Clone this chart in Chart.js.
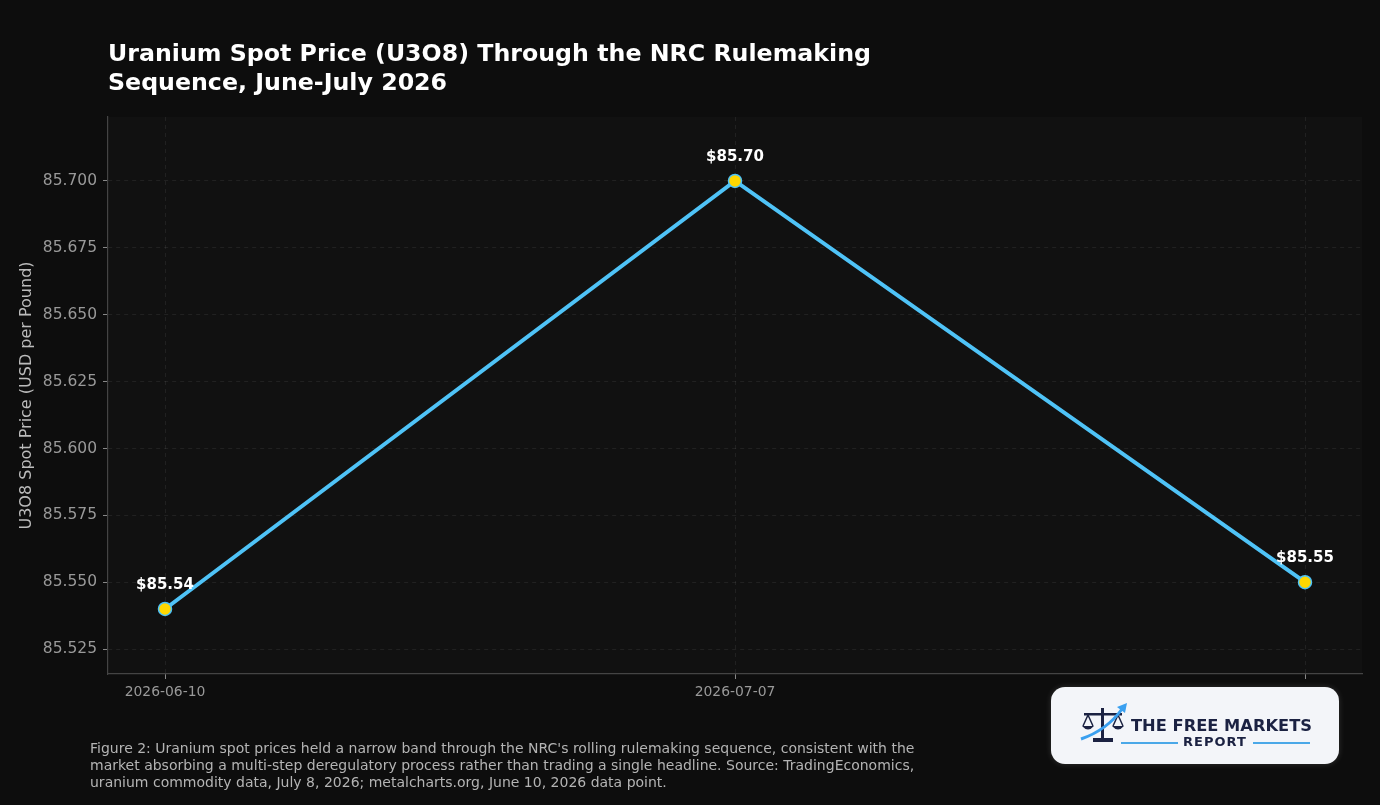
<!DOCTYPE html>
<html>
<head>
<meta charset="utf-8">
<script src="https://cdn.jsdelivr.net/npm/chart.js@4.4.1/dist/chart.umd.min.js"></script>
<style>
  html, body { margin: 0; padding: 0; background: #0d0d0d; }
  body { width: 1380px; height: 805px; position: relative; overflow: hidden; font-family: "DejaVu Sans", sans-serif; }
  #wrap { position: absolute; left: 0; top: 0; width: 1380px; height: 805px; }
  #title { position: absolute; left: 108px; top: 39px; color: #fff; font-weight: bold; font-size: 23.7px; line-height: 29px; white-space: nowrap; }
  #caption { position: absolute; left: 90px; top: 740px; color: #b4b4b4; font-size: 14px; line-height: 17px; white-space: nowrap; }
  #logo { position: absolute; left: 1051px; top: 687px; width: 288px; height: 77px; border-radius: 14px; background: #f3f5f9; box-shadow: 0 0 6px rgba(255,255,255,0.15); }
  #logo .name { position: absolute; left: 80px; top: 29px; font-size: 16.3px; font-weight: bold; color: #1b2242; white-space: nowrap; }
  #logo .rep { position: absolute; left: 132px; top: 47px; font-size: 13px; font-weight: bold; color: #1b2242; letter-spacing: 1px; white-space: nowrap; }
  #logo .ln { position: absolute; top: 55px; height: 2px; background: #4aa8e8; }
  #logo svg { position: absolute; left: 28px; top: 15px; }
</style>
</head>
<body>
<div id="wrap"><canvas id="chart" width="1380" height="805"></canvas></div>
<div id="title">Uranium Spot Price (U3O8) Through the NRC Rulemaking<br>Sequence, June-July 2026</div>
<div id="caption">Figure 2: Uranium spot prices held a narrow band through the NRC's rolling rulemaking sequence, consistent with the<br>market absorbing a multi-step deregulatory process rather than trading a single headline. Source: TradingEconomics,<br>uranium commodity data, July 8, 2026; metalcharts.org, June 10, 2026 data point.</div>
<div id="logo">
  <svg width="52" height="44" viewBox="0 0 52 44">
    <rect x="22" y="6" width="3" height="30" fill="#1b2242"/>
    <rect x="14" y="36" width="20" height="4" fill="#1b2242"/>
    <rect x="5" y="11" width="38" height="2.5" fill="#1b2242"/>
    <path d="M4 24 L9 13 L14 24" fill="none" stroke="#1b2242" stroke-width="1.5"/>
    <path d="M3 24 Q9 31 15 24 Z" fill="#1b2242"/>
    <path d="M34 24 L39 13 L44 24" fill="none" stroke="#1b2242" stroke-width="1.5"/>
    <path d="M33 24 Q39 31 45 24 Z" fill="#1b2242"/>
    <path d="M2 37 Q28 28 43 7" fill="none" stroke="#3aa0f0" stroke-width="3"/>
    <path d="M38 5 L48 1 L46 11 Z" fill="#3aa0f0"/>
  </svg>
  <div class="name">THE FREE MARKETS</div>
  <div class="ln" style="left:70px; width:57px;"></div>
  <div class="rep">REPORT</div>
  <div class="ln" style="left:202px; width:57px;"></div>
</div>
<script>
const dates = ['2026-06-10', '2026-07-07', '2026-07-08'];
// the last date label sits under the logo box in the original, so it is not drawn
const shownDates = ['2026-06-10', '2026-07-07', ''];
const prices = [85.54, 85.70, 85.55];
const priceLabels = ['$85.54', '$85.70', '$85.55'];
const yTicks = [85.525, 85.550, 85.575, 85.600, 85.625, 85.650, 85.675, 85.700];

const plotBg = {
  id: 'plotBg',
  beforeDraw(chart) {
    const { ctx, chartArea: a } = chart;
    ctx.save();
    ctx.fillStyle = '#111111';
    ctx.fillRect(a.left, a.top, a.right - a.left, a.bottom - a.top);
    ctx.restore();
  }
};

const pointLabels = {
  id: 'pointLabels',
  afterDatasetsDraw(chart) {
    const { ctx } = chart;
    const meta = chart.getDatasetMeta(0);
    ctx.save();
    ctx.font = 'bold 15px "DejaVu Sans"';
    ctx.fillStyle = '#ffffff';
    ctx.textAlign = 'center';
    ctx.textBaseline = 'middle';
    meta.data.forEach((pt, i) => {
      ctx.fillText(priceLabels[i], pt.x, pt.y - 24);
    });
    ctx.restore();
  }
};

const ctx = document.getElementById('chart').getContext('2d');
new Chart(ctx, {
  type: 'line',
  data: {
    datasets: [{
      data: prices.map((p, i) => ({ x: i, y: p })),
      borderColor: '#4fc3f7',
      borderWidth: 4,
      pointBackgroundColor: '#ffd700',
      pointBorderColor: '#4fc3f7',
      pointBorderWidth: 1.5,
      pointRadius: 6.5,
      tension: 0
    }]
  },
  options: {
    responsive: false,
    animation: false,
    layout: { padding: { top: 117, right: 18, bottom: 0, left: 0 } },
    plugins: { legend: { display: false }, tooltip: { enabled: false } },
    scales: {
      x: {
        type: 'linear',
        min: -0.1,
        max: 2.1,
        afterBuildTicks: s => { s.ticks = dates.map((d, i) => ({ value: i })); },
        afterFit: s => { s.height = 131; },
        ticks: {
          callback: v => shownDates[v],
          color: '#999999',
          font: { family: 'DejaVu Sans', size: 13.9 },
          padding: 5,
          maxRotation: 0
        },
        grid: { color: 'rgba(255,255,255,0.07)', tickColor: '#888888', tickLength: 5, tickWidth: 1 },
        border: { color: '#444444', width: 1.2, dash: [4, 4] }
      },
      y: {
        min: 85.5157,
        max: 85.7239,
        afterBuildTicks: s => { s.ticks = yTicks.map(v => ({ value: v })); },
        afterFit: s => { s.width = 108; },
        ticks: {
          callback: v => v.toFixed(3),
          color: '#999999',
          font: { family: 'DejaVu Sans', size: 15.5 },
          padding: 6
        },
        title: {
          display: true,
          text: 'U3O8 Spot Price (USD per Pound)',
          color: '#bbbbbb',
          font: { family: 'DejaVu Sans', size: 16 },
          padding: { top: 17, bottom: 0 }
        },
        grid: { color: 'rgba(255,255,255,0.07)', tickColor: '#888888', tickLength: 5, tickWidth: 1 },
        border: { color: '#444444', width: 1.2, dash: [4, 4] }
      }
    }
  },
  plugins: [plotBg, pointLabels]
});
</script>
</body>
</html>
